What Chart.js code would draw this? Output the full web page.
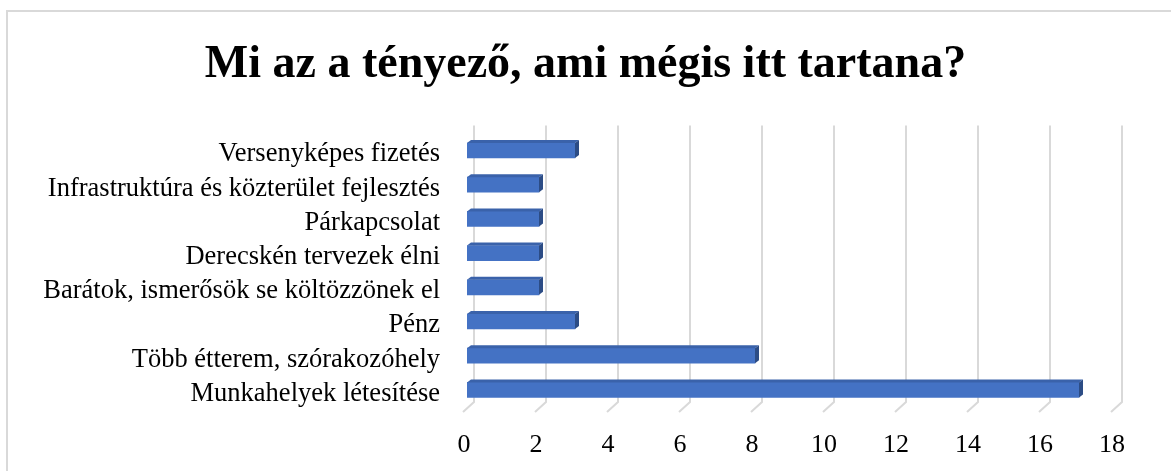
<!DOCTYPE html>
<html>
<head>
<meta charset="utf-8">
<script src="https://cdn.jsdelivr.net/npm/chart.js@4"></script>
<style>
  html, body { margin: 0; padding: 0; background: #ffffff; }
  #wrap { position: relative; width: 1171px; height: 471px; }
  #frame { position: absolute; left: 6px; top: 10px; width: 1200px; height: 500px; border: 2px solid #D9D9D9; box-sizing: border-box; }
  canvas { position: absolute; left: 0; top: 0; }
</style>
</head>
<body>
<div id="wrap">
  <div id="frame"></div>
  <canvas id="c" width="1171" height="471"></canvas>
</div>
<script>
const titleText = 'Mi az a tényező, ami mégis itt tartana?';
const categories = [
  'Versenyképes fizetés',
  'Infrastruktúra és közterület fejlesztés',
  'Párkapcsolat',
  'Derecskén tervezek élni',
  'Barátok, ismerősök se költözzönek el',
  'Pénz',
  'Több étterem, szórakozóhely',
  'Munkahelyek létesítése'
];
const values = [3, 2, 2, 2, 2, 3, 8, 17];
const xTicks = [0, 2, 4, 6, 8, 10, 12, 14, 16, 18];

const SERIF = '"Liberation Serif", "Times New Roman", serif';

// 3D grid (back wall + floor diagonal) and 3D bar faces
const threeD = {
  id: 'threeD',
  beforeDatasetsDraw(chart) {
    const ctx = chart.ctx;
    const xs = chart.scales.x;
    const area = chart.chartArea;
    ctx.save();
    ctx.strokeStyle = '#D9D9D9';
    ctx.lineWidth = 2;
    xTicks.forEach(v => {
      const px = xs.getPixelForValue(v);
      ctx.beginPath();
      ctx.moveTo(px + 7, area.top - 8);
      ctx.lineTo(px + 7, area.bottom - 5);
      ctx.lineTo(px - 4, area.bottom + 5);
      ctx.stroke();
    });
    ctx.restore();
  },
  afterDatasetsDraw(chart) {
    const ctx = chart.ctx;
    const meta = chart.getDatasetMeta(0);
    const dx = 4, dy = 3;
    ctx.save();
    meta.data.forEach(bar => {
      const p = bar.getProps(['x', 'y', 'base', 'height'], true);
      const top = p.y - p.height / 2;
      const bottom = p.y + p.height / 2;
      // top face
      ctx.fillStyle = '#3A62AA';
      ctx.beginPath();
      ctx.moveTo(p.base, top);
      ctx.lineTo(p.base + dx, top - dy);
      ctx.lineTo(p.x + dx, top - dy);
      ctx.lineTo(p.x, top);
      ctx.closePath();
      ctx.fill();
      // right face
      ctx.fillStyle = '#2C4C85';
      ctx.beginPath();
      ctx.moveTo(p.x, top);
      ctx.lineTo(p.x + dx, top - dy);
      ctx.lineTo(p.x + dx, bottom - dy);
      ctx.lineTo(p.x, bottom);
      ctx.closePath();
      ctx.fill();
    });
    ctx.restore();
  }
};

new Chart(document.getElementById('c'), {
  type: 'bar',
  data: {
    labels: categories,
    datasets: [{
      data: values,
      backgroundColor: '#4472C4',
      borderWidth: 0,
      barThickness: 15
    }]
  },
  options: {
    indexAxis: 'y',
    responsive: false,
    animation: false,
    devicePixelRatio: 1,
    layout: { padding: { left: 0, right: 0, top: 0, bottom: 0 } },
    plugins: {
      legend: { display: false },
      tooltip: { enabled: false },
      title: {
        display: true,
        text: titleText,
        color: '#000000',
        font: { family: SERIF, size: 46, weight: 'bold' },
        padding: { top: 37.5, bottom: 40.7 }
      }
    },
    scales: {
      x: {
        type: 'linear',
        min: 0,
        max: 18,
        afterBuildTicks(scale) { scale.ticks = xTicks.map(v => ({ value: v })); },
        afterFit(scale) { scale.height = 64; },
        grid: { display: false, drawTicks: false },
        border: { display: false },
        ticks: {
          color: '#000000',
          font: { family: SERIF, size: 26 },
          padding: 23,
          labelOffset: -3
        }
      },
      y: {
        afterFit(scale) { scale.width = 467; },
        grid: { display: false, drawTicks: false },
        border: { display: false },
        ticks: {
          color: '#000000',
          font: { family: SERIF, size: 26.5 },
          padding: 27,
          labelOffset: 4,
          autoSkip: false
        }
      },
      yRight: {
        position: 'right',
        afterFit(scale) { scale.width = 56; },
        grid: { display: false, drawTicks: false },
        border: { display: false },
        ticks: { display: false }
      }
    }
  },
  plugins: [threeD]
});
</script>
</body>
</html>
